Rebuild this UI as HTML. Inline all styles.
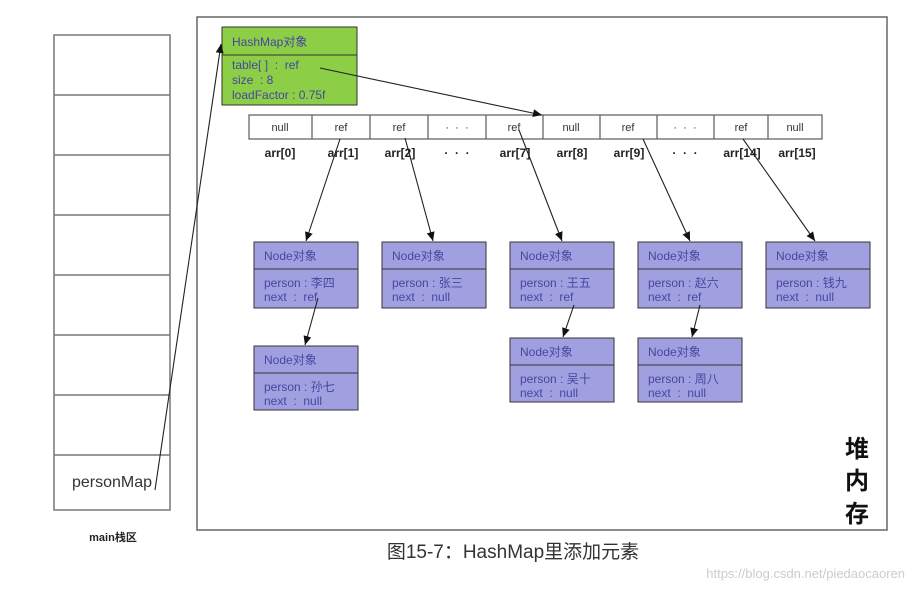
<!DOCTYPE html>
<html><head><meta charset="utf-8"><style>
html,body{margin:0;padding:0;background:#fff;width:916px;height:590px;overflow:hidden}
svg{display:block}
text{font-family:"Liberation Sans","Noto Sans CJK SC",sans-serif;white-space:pre}
</style></head><body>
<svg width="916" height="590" viewBox="0 0 916 590" xmlns="http://www.w3.org/2000/svg">
<defs><marker id="a" markerWidth="10" markerHeight="10" refX="9" refY="4" orient="auto" markerUnits="userSpaceOnUse"><path d="M0,0 L9,4 L0,8 z" fill="#111"/></marker></defs>
<g stroke="#777" stroke-width="1.5" fill="none">
<rect x="54" y="35" width="116" height="475"/>
<line x1="54" y1="95" x2="170" y2="95"/><line x1="54" y1="155" x2="170" y2="155"/>
<line x1="54" y1="215" x2="170" y2="215"/><line x1="54" y1="275" x2="170" y2="275"/>
<line x1="54" y1="335" x2="170" y2="335"/><line x1="54" y1="395" x2="170" y2="395"/>
<line x1="54" y1="455" x2="170" y2="455"/>
</g>
<text x="112" y="487" font-size="16" text-anchor="middle" fill="#333">personMap</text>
<text x="113" y="541" font-size="11" font-weight="bold" text-anchor="middle" fill="#222">main栈区</text>
<rect x="197" y="17" width="690" height="513" fill="none" stroke="#666" stroke-width="1.5"/>
<text x="857" y="457" font-size="24" font-weight="bold" text-anchor="middle" fill="#111">堆</text>
<text x="857" y="489" font-size="24" font-weight="bold" text-anchor="middle" fill="#111">内</text>
<text x="857" y="522" font-size="24" font-weight="bold" text-anchor="middle" fill="#111">存</text>
<rect x="222" y="27" width="135" height="78" fill="#8CCE46" stroke="#333" stroke-width="1"/>
<line x1="222" y1="55" x2="357" y2="55" stroke="#333"/>
<g font-size="12" fill="#4646a0">
<text x="232" y="46">HashMap对象</text>
<text x="232" y="69">table[ ]  :  ref</text>
<text x="232" y="84">size  : 8</text>
<text x="232" y="99">loadFactor : 0.75f</text>
</g>
<g stroke="#666" stroke-width="1.3" fill="none">
<rect x="249" y="115" width="573" height="24"/>
<line x1="312" y1="115" x2="312" y2="139"/><line x1="370" y1="115" x2="370" y2="139"/>
<line x1="428" y1="115" x2="428" y2="139"/><line x1="486" y1="115" x2="486" y2="139"/>
<line x1="543" y1="115" x2="543" y2="139"/><line x1="600" y1="115" x2="600" y2="139"/>
<line x1="657" y1="115" x2="657" y2="139"/><line x1="714" y1="115" x2="714" y2="139"/>
<line x1="768" y1="115" x2="768" y2="139"/>
</g>
<g font-size="11" fill="#333" text-anchor="middle">
<text x="280" y="131">null</text><text x="341" y="131">ref</text><text x="399" y="131">ref</text>
<text x="457" y="131">·  ·  ·</text><text x="514" y="131">ref</text><text x="571" y="131">null</text>
<text x="628" y="131">ref</text><text x="685" y="131">·  ·  ·</text><text x="741" y="131">ref</text>
<text x="795" y="131">null</text>
</g>
<g font-size="12" font-weight="bold" fill="#222" text-anchor="middle">
<text x="280" y="157">arr[0]</text><text x="343" y="157">arr[1]</text><text x="400" y="157">arr[2]</text>
<text x="457" y="157">·  ·  ·</text><text x="515" y="157">arr[7]</text><text x="572" y="157">arr[8]</text>
<text x="629" y="157">arr[9]</text><text x="685" y="157">·  ·  ·</text><text x="742" y="157">arr[14]</text>
<text x="797" y="157">arr[15]</text>
</g>
<g font-size="12" fill="#4646a0">
<g transform="translate(254,242)"><rect width="104" height="66" fill="#A0A0E0" stroke="#333"/><line x1="0" y1="27" x2="104" y2="27" stroke="#333"/><text x="10" y="18">Node对象</text><text x="10" y="45">person : 李四</text><text x="10" y="59">next  :  ref</text></g>
<g transform="translate(382,242)"><rect width="104" height="66" fill="#A0A0E0" stroke="#333"/><line x1="0" y1="27" x2="104" y2="27" stroke="#333"/><text x="10" y="18">Node对象</text><text x="10" y="45">person : 张三</text><text x="10" y="59">next  :  null</text></g>
<g transform="translate(510,242)"><rect width="104" height="66" fill="#A0A0E0" stroke="#333"/><line x1="0" y1="27" x2="104" y2="27" stroke="#333"/><text x="10" y="18">Node对象</text><text x="10" y="45">person : 王五</text><text x="10" y="59">next  :  ref</text></g>
<g transform="translate(638,242)"><rect width="104" height="66" fill="#A0A0E0" stroke="#333"/><line x1="0" y1="27" x2="104" y2="27" stroke="#333"/><text x="10" y="18">Node对象</text><text x="10" y="45">person : 赵六</text><text x="10" y="59">next  :  ref</text></g>
<g transform="translate(766,242)"><rect width="104" height="66" fill="#A0A0E0" stroke="#333"/><line x1="0" y1="27" x2="104" y2="27" stroke="#333"/><text x="10" y="18">Node对象</text><text x="10" y="45">person : 钱九</text><text x="10" y="59">next  :  null</text></g>
<g transform="translate(254,346)"><rect width="104" height="64" fill="#A0A0E0" stroke="#333"/><line x1="0" y1="27" x2="104" y2="27" stroke="#333"/><text x="10" y="18">Node对象</text><text x="10" y="45">person : 孙七</text><text x="10" y="59">next  :  null</text></g>
<g transform="translate(510,338)"><rect width="104" height="64" fill="#A0A0E0" stroke="#333"/><line x1="0" y1="27" x2="104" y2="27" stroke="#333"/><text x="10" y="18">Node对象</text><text x="10" y="45">person : 吴十</text><text x="10" y="59">next  :  null</text></g>
<g transform="translate(638,338)"><rect width="104" height="64" fill="#A0A0E0" stroke="#333"/><line x1="0" y1="27" x2="104" y2="27" stroke="#333"/><text x="10" y="18">Node对象</text><text x="10" y="45">person : 周八</text><text x="10" y="59">next  :  null</text></g>
</g>
<g stroke="#222" stroke-width="1.1" fill="none" marker-end="url(#a)">
<line x1="155" y1="490" x2="221" y2="44"/>
<line x1="320" y1="68" x2="542" y2="115"/>
<line x1="340" y1="139" x2="306" y2="241"/>
<line x1="405" y1="138" x2="433" y2="241"/>
<line x1="519" y1="130" x2="562" y2="241"/>
<line x1="643" y1="139" x2="690" y2="241"/>
<line x1="743" y1="139" x2="815" y2="241"/>
<line x1="318" y1="298" x2="305" y2="345"/>
<line x1="574" y1="305" x2="563" y2="337"/>
<line x1="700" y1="305" x2="692" y2="337"/>
</g>
<text x="513" y="558" font-size="19" text-anchor="middle" fill="#333">图15-7：HashMap里添加元素</text>
<text x="905" y="578" font-size="13" text-anchor="end" fill="#ccc">https://blog.csdn.net/piedaocaoren</text>
</svg>
</body></html>
